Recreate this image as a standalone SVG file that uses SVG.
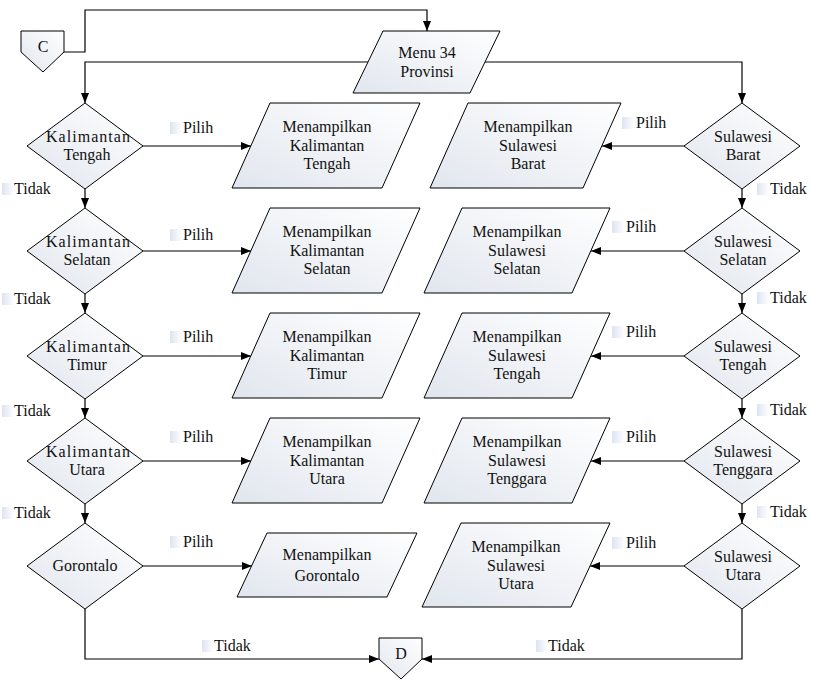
<svg xmlns="http://www.w3.org/2000/svg" width="813" height="680" viewBox="0 0 813 680" font-family="'Liberation Serif', 'Times New Roman', serif" font-size="16">
  <defs>
    <linearGradient id="shapeFill" x1="1" y1="0" x2="0" y2="1">
      <stop offset="0" stop-color="#ffffff"/>
      <stop offset="1" stop-color="#e1e6ee"/>
    </linearGradient>
    <linearGradient id="tagFill" x1="0" y1="0" x2="1" y2="0">
      <stop offset="0" stop-color="#dde4f1"/>
      <stop offset="1" stop-color="#ffffff"/>
    </linearGradient>
    <marker id="arrow" viewBox="0 0 10 10" refX="10" refY="5" markerWidth="10" markerHeight="10" markerUnits="userSpaceOnUse" orient="auto">
      <path d="M0,1 L10,5 L0,9 Z" fill="#000"/>
    </marker>
  </defs>
  <style>
    .shape { fill: url(#shapeFill); stroke: #000; stroke-width: 1; }
    .line { fill: none; stroke: #000; stroke-width: 1.2; marker-end: url(#arrow); }
    .tag { fill: url(#tagFill); }
    text { font-family: "Liberation Serif", "Times New Roman", serif; font-size: 16px; fill: #111; }
    .c { text-anchor: middle; }
  </style>

  <rect width="813" height="680" fill="#ffffff"/>

  <!-- connectors -->
  <g id="connectors">
    <polyline class="line" points="64,52 85,52 85,10 427,10 427,31"/>
    <polyline class="line" points="368,62 85,62 85,103"/>
    <polyline class="line" points="485,62 742,62 742,103"/>
    <!-- left column: Tidak -->
    <line class="line" x1="85" y1="189" x2="85" y2="208"/>
    <line class="line" x1="85" y1="294" x2="85" y2="313"/>
    <line class="line" x1="85" y1="399" x2="85" y2="418"/>
    <line class="line" x1="85" y1="504" x2="85" y2="523"/>
    <polyline class="line" points="85,609 85,659 379,659"/>
    <!-- left column: Pilih -->
    <line class="line" x1="143" y1="146" x2="251" y2="146"/>
    <line class="line" x1="143" y1="251" x2="251" y2="251"/>
    <line class="line" x1="143" y1="356" x2="251" y2="356"/>
    <line class="line" x1="143" y1="461" x2="251" y2="461"/>
    <line class="line" x1="143" y1="566" x2="252" y2="566"/>
    <!-- right column: Tidak -->
    <line class="line" x1="742" y1="189" x2="742" y2="208"/>
    <line class="line" x1="742" y1="294" x2="742" y2="313"/>
    <line class="line" x1="742" y1="399" x2="742" y2="418"/>
    <line class="line" x1="742" y1="504" x2="742" y2="523"/>
    <polyline class="line" points="742,609 742,659 422,659"/>
    <!-- right column: Pilih -->
    <line class="line" x1="684" y1="146" x2="602" y2="146"/>
    <line class="line" x1="684" y1="251" x2="591" y2="251"/>
    <line class="line" x1="684" y1="356" x2="591" y2="356"/>
    <line class="line" x1="684" y1="461" x2="591" y2="461"/>
    <line class="line" x1="684" y1="566" x2="590" y2="566"/>
  </g>

  <!-- edge labels -->
  <g id="labels">
    <rect class="tag" x="170" y="122" width="12" height="12"/><text x="183" y="133">Pilih</text>
    <rect class="tag" x="170" y="229" width="12" height="12"/><text x="183" y="240">Pilih</text>
    <rect class="tag" x="170" y="331" width="12" height="12"/><text x="183" y="342">Pilih</text>
    <rect class="tag" x="170" y="431" width="12" height="12"/><text x="183" y="442">Pilih</text>
    <rect class="tag" x="170" y="536" width="12" height="12"/><text x="183" y="547">Pilih</text>

    <rect class="tag" x="2" y="183" width="12" height="12"/><text x="14" y="194">Tidak</text>
    <rect class="tag" x="2" y="293" width="12" height="12"/><text x="14" y="304">Tidak</text>
    <rect class="tag" x="2" y="405" width="12" height="12"/><text x="14" y="416">Tidak</text>
    <rect class="tag" x="2" y="507" width="12" height="12"/><text x="14" y="518">Tidak</text>

    <rect class="tag" x="622" y="117" width="13" height="12"/><text x="636" y="128">Pilih</text>
    <rect class="tag" x="612" y="221" width="13" height="12"/><text x="626" y="232">Pilih</text>
    <rect class="tag" x="612" y="326" width="13" height="12"/><text x="626" y="337">Pilih</text>
    <rect class="tag" x="612" y="431" width="13" height="12"/><text x="626" y="442">Pilih</text>
    <rect class="tag" x="612" y="537" width="13" height="12"/><text x="626" y="548">Pilih</text>

    <rect class="tag" x="757" y="183" width="12" height="12"/><text x="770" y="194">Tidak</text>
    <rect class="tag" x="757" y="292" width="12" height="12"/><text x="770" y="303">Tidak</text>
    <rect class="tag" x="757" y="404" width="12" height="12"/><text x="770" y="415">Tidak</text>
    <rect class="tag" x="757" y="506" width="12" height="12"/><text x="770" y="517">Tidak</text>

    <rect class="tag" x="202" y="640" width="12" height="12"/><text x="214" y="651">Tidak</text>
    <rect class="tag" x="536" y="640" width="12" height="12"/><text x="548" y="651">Tidak</text>
  </g>

  <!-- off-page connectors -->
  <g id="conn-c">
    <polygon class="shape" points="21,31 64,31 64,52 43,72 21,52"/>
    <text class="c" x="43" y="52">C</text>
  </g>
  <g id="conn-d">
    <polygon class="shape" points="379,638 422,638 422,659 401,679 379,659"/>
    <text class="c" x="401" y="659">D</text>
  </g>

  <!-- main menu -->
  <g id="menu">
    <polygon class="shape" points="383,31 500,31 470,93 353,93"/>
    <text class="c" x="427" y="58">Menu 34</text>
    <text class="c" x="427" y="77">Provinsi</text>
  </g>

  <!-- left column decisions -->
  <g id="d-kalteng">
    <polygon class="shape" points="85,103 143,146 85,189 27,146"/>
    <text class="c" x="88" y="142" textLength="84" lengthAdjust="spacing">Kalimantan</text>
    <text class="c" x="87" y="160">Tengah</text>
  </g>
  <g id="d-kalsel">
    <polygon class="shape" points="85,208 143,251 85,294 27,251"/>
    <text class="c" x="88" y="247" textLength="84" lengthAdjust="spacing">Kalimantan</text>
    <text class="c" x="87" y="265">Selatan</text>
  </g>
  <g id="d-kaltim">
    <polygon class="shape" points="85,313 143,356 85,399 27,356"/>
    <text class="c" x="88" y="352" textLength="84" lengthAdjust="spacing">Kalimantan</text>
    <text class="c" x="87" y="370">Timur</text>
  </g>
  <g id="d-kalut">
    <polygon class="shape" points="85,418 143,461 85,504 27,461"/>
    <text class="c" x="88" y="457" textLength="84" lengthAdjust="spacing">Kalimantan</text>
    <text class="c" x="87" y="475">Utara</text>
  </g>
  <g id="d-gorontalo">
    <polygon class="shape" points="85,523 143,566 85,609 27,566"/>
    <text class="c" x="85" y="571">Gorontalo</text>
  </g>

  <!-- left column outputs -->
  <g id="o-kalteng">
    <polygon class="shape" points="270,103 420,103 382,188 232,188"/>
    <text class="c" x="327" y="132">Menampilkan</text>
    <text class="c" x="327" y="151">Kalimantan</text>
    <text class="c" x="327" y="169">Tengah</text>
  </g>
  <g id="o-kalsel">
    <polygon class="shape" points="270,208 420,208 382,293 232,293"/>
    <text class="c" x="327" y="237">Menampilkan</text>
    <text class="c" x="327" y="256">Kalimantan</text>
    <text class="c" x="327" y="274">Selatan</text>
  </g>
  <g id="o-kaltim">
    <polygon class="shape" points="270,313 420,313 382,398 232,398"/>
    <text class="c" x="327" y="342">Menampilkan</text>
    <text class="c" x="327" y="361">Kalimantan</text>
    <text class="c" x="327" y="379">Timur</text>
  </g>
  <g id="o-kalut">
    <polygon class="shape" points="270,418 420,418 382,503 232,503"/>
    <text class="c" x="327" y="447">Menampilkan</text>
    <text class="c" x="327" y="466">Kalimantan</text>
    <text class="c" x="327" y="484">Utara</text>
  </g>
  <g id="o-gorontalo">
    <polygon class="shape" points="267,533 417,533 387,597 237,597"/>
    <text class="c" x="327" y="560">Menampilkan</text>
    <text class="c" x="327" y="581">Gorontalo</text>
  </g>

  <!-- right column decisions -->
  <g id="d-sulbar">
    <polygon class="shape" points="742,103 800,146 742,189 684,146"/>
    <text class="c" x="743" y="142">Sulawesi</text>
    <text class="c" x="743" y="160">Barat</text>
  </g>
  <g id="d-sulsel">
    <polygon class="shape" points="742,208 800,251 742,294 684,251"/>
    <text class="c" x="743" y="247">Sulawesi</text>
    <text class="c" x="743" y="265">Selatan</text>
  </g>
  <g id="d-sulteng">
    <polygon class="shape" points="742,313 800,356 742,399 684,356"/>
    <text class="c" x="743" y="352">Sulawesi</text>
    <text class="c" x="743" y="370">Tengah</text>
  </g>
  <g id="d-sultra">
    <polygon class="shape" points="742,418 800,461 742,504 684,461"/>
    <text class="c" x="743" y="457">Sulawesi</text>
    <text class="c" x="743" y="475">Tenggara</text>
  </g>
  <g id="d-sulut">
    <polygon class="shape" points="742,523 800,566 742,609 684,566"/>
    <text class="c" x="743" y="562">Sulawesi</text>
    <text class="c" x="743" y="580">Utara</text>
  </g>

  <!-- right column outputs -->
  <g id="o-sulbar">
    <polygon class="shape" points="468,103 621,103 583,188 430,188"/>
    <text class="c" x="528" y="132">Menampilkan</text>
    <text class="c" x="528" y="151">Sulawesi</text>
    <text class="c" x="528" y="169">Barat</text>
  </g>
  <g id="o-sulsel">
    <polygon class="shape" points="462,208 610,208 572,293 424,293"/>
    <text class="c" x="517" y="237">Menampilkan</text>
    <text class="c" x="517" y="256">Sulawesi</text>
    <text class="c" x="517" y="274">Selatan</text>
  </g>
  <g id="o-sulteng">
    <polygon class="shape" points="462,313 610,313 572,398 424,398"/>
    <text class="c" x="517" y="342">Menampilkan</text>
    <text class="c" x="517" y="361">Sulawesi</text>
    <text class="c" x="517" y="379">Tengah</text>
  </g>
  <g id="o-sultra">
    <polygon class="shape" points="462,418 610,418 572,503 424,503"/>
    <text class="c" x="517" y="447">Menampilkan</text>
    <text class="c" x="517" y="466">Sulawesi</text>
    <text class="c" x="517" y="484">Tenggara</text>
  </g>
  <g id="o-sulut">
    <polygon class="shape" points="461,523 610,523 571,607 422,607"/>
    <text class="c" x="516" y="552">Menampilkan</text>
    <text class="c" x="516" y="571">Sulawesi</text>
    <text class="c" x="516" y="589">Utara</text>
  </g>
</svg>
